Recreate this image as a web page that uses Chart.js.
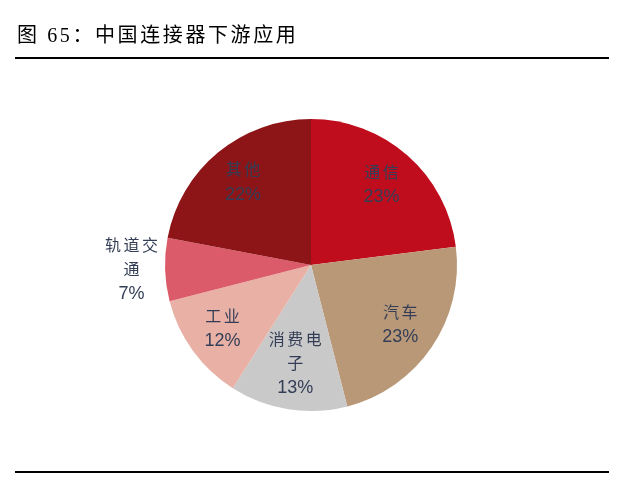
<!DOCTYPE html>
<html>
<head>
<meta charset="utf-8">
<script src="https://cdn.jsdelivr.net/npm/chart.js@4/dist/chart.umd.min.js"></script>
<style>
  html, body { margin: 0; padding: 0; background: #fff; }
  #pie { display: block; }
</style>
</head>
<body>
<canvas id="pie" width="640" height="480"></canvas>
<script>
// 图 65 data: share of downstream applications, clockwise from 12 o'clock
const categories = ['通信', '汽车', '消费电子', '工业', '轨道交通', '其他'];
const shares = [23, 23, 13, 12, 7, 22];
// category names as they wrap inside the chart
const nameLines = [['通信'], ['汽车'], ['消费电', '子'], ['工业'], ['轨道交', '通'], ['其他']];
const sliceColors = ['#C00D1D', '#B99878', '#C9C9C9', '#E9B1A6', '#DC5B6B', '#8D1417'];

const titleText = '图 65：中国连接器下游应用';
// how far out each label sits, as a fraction of the radius
const labelRadius = [0.73, 0.74, 0.69, 0.75, 1.23, 0.73];

// draws a string one glyph at a time so CJK text gets the wide spacing of the original
function spacedText(ctx, str, x, y, gap, align) {
    const chars = Array.from(str);
    const widths = chars.map(c => ctx.measureText(c).width);
    const total = widths.reduce((a, b) => a + b, 0) + gap * (chars.length - 1);
    let cx = align === 'center' ? x - total / 2 : x;
    ctx.textAlign = 'left';
    chars.forEach((c, i) => {
        ctx.fillText(c, cx, y);
        cx += widths[i] + gap;
    });
}

const frame = {
    id: 'frame',
    beforeDraw(chart) {
        const ctx = chart.ctx;
        ctx.save();
        ctx.fillStyle = '#000';
        ctx.font = '20px "Liberation Serif", "Noto Sans CJK SC"';
        ctx.textBaseline = 'middle';
        spacedText(ctx, titleText, 17, 37, 2.6, 'left');
        ctx.strokeStyle = '#000';
        ctx.lineWidth = 2;
        ctx.beginPath();
        ctx.moveTo(15, 58); ctx.lineTo(609, 58);
        ctx.moveTo(15, 472); ctx.lineTo(609, 472);
        ctx.stroke();
        ctx.restore();
    }
};

const sliceLabels = {
    id: 'sliceLabels',
    afterDatasetsDraw(chart) {
        const ctx = chart.ctx;
        const arcs = chart.getDatasetMeta(0).data;
        ctx.save();
        ctx.textBaseline = 'middle';
        ctx.fillStyle = '#333E56';
        arcs.forEach((arc, i) => {
            const p = arc.getProps(['x', 'y', 'startAngle', 'endAngle', 'outerRadius'], true);
            const mid = (p.startAngle + p.endAngle) / 2;
            const r = p.outerRadius * labelRadius[i];
            const px = p.x + Math.cos(mid) * r;
            const py = p.y + Math.sin(mid) * r;
            const lines = nameLines[i].concat([shares[i] + '%']);
            const step = 23.5;
            let y = py - step * (lines.length - 1) / 2;
            lines.forEach((line, j) => {
                if (j < lines.length - 1) {
                    ctx.font = '16px "Liberation Serif", "Noto Sans CJK SC"';
                    spacedText(ctx, line, px, y, 2.5, 'center');
                } else {
                    ctx.font = '18px "Liberation Sans", Arial, sans-serif';
                    ctx.textAlign = 'center';
                    ctx.fillText(line, px, y);
                }
                y += step;
            });
        });
        ctx.restore();
    }
};

new Chart(
    document.getElementById('pie'),
    {
        type: 'pie',
        data: {
            labels: categories,
            datasets: [
                {
                    data: shares,
                    backgroundColor: sliceColors,
                    borderWidth: 0,
                    hoverOffset: 0
                }
            ]
        },
        options: {
            responsive: false,
            animation: false,
            devicePixelRatio: 1,
            layout: { padding: { top: 119, bottom: 69, left: 165, right: 183 } },
            plugins: {
                legend: { display: false },
                tooltip: { enabled: false }
            }
        },
        plugins: [frame, sliceLabels]
    }
);
</script>
</body>
</html>
